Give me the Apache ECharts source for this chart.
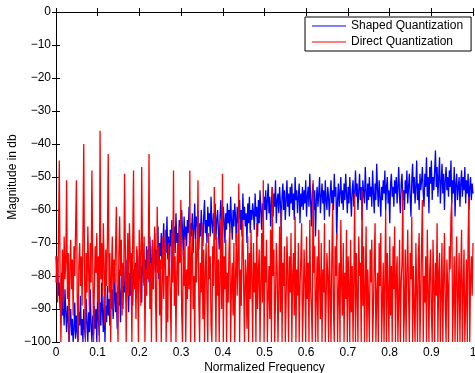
<!DOCTYPE html>
<html>
<head>
<meta charset="utf-8">
<script src="https://cdn.jsdelivr.net/npm/echarts@6/dist/echarts.min.js"></script>
<style>
html,body{margin:0;padding:0;background:#fff;}
#c{width:475px;height:373px;}
</style>
</head>
<body>
<div id="c"></div>
<script>
// Shaped quantization spectrum (dB), 512 bins over normalized frequency 0..1
const shaped = [
-74,-80,-77,-86,-82,-90,-85,-79,-92,-88,-95,-84,-91,-97,-89,-93,
-100,-94,-90,-98,-93,-100,-96,-88,-99,-92,-97,-100,-91,-95,-86,-98,
-93,-100,-90,-96,-99,-87,-94,-100,-91,-97,-84,-95,-100,-92,-98,-89,
-96,-90,-100,-85,-93,-98,-88,-95,-82,-91,-97,-86,-100,-89,-94,-83,
-92,-87,-95,-81,-90,-84,-93,-88,-79,-91,-85,-96,-83,-89,-78,-94,
-86,-80,-90,-77,-85,-82,-88,-75,-84,-91,-79,-86,-73,-83,-89,-78,
-82,-76,-87,-72,-80,-85,-74,-81,-77,-88,-70,-79,-83,-75,-86,-71,
-78,-73,-82,-68,-76,-80,-71,-84,-74,-67,-79,-72,-77,-65,-81,-70,
-74,-67,-78,-70,-64,-76,-69,-73,-62,-75,-68,-80,-66,-71,-63,-77,
-69,-65,-73,-61,-70,-67,-75,-63,-68,-72,-60,-66,-74,-62,-69,-65,
-71,-63,-67,-59,-70,-64,-68,-61,-73,-66,-58,-69,-62,-65,-60,-72,
-64,-68,-60,-66,-71,-62,-57,-67,-63,-70,-59,-65,-61,-68,-56,-64,
-67,-61,-65,-58,-69,-63,-60,-66,-72,-62,-57,-64,-68,-59,-63,-70,
-61,-66,-58,-64,-60,-67,-56,-63,-69,-60,-65,-58,-62,-71,-59,-64,
-62,-57,-66,-60,-68,-55,-63,-59,-65,-61,-70,-58,-64,-56,-67,-60,
-63,-58,-61,-66,-55,-62,-59,-68,-57,-64,-54,-60,-66,-58,-62,-56,
-60,-54,-63,-57,-52,-61,-56,-65,-58,-53,-62,-55,-59,-51,-64,-57,
-55,-61,-53,-58,-66,-56,-52,-60,-54,-63,-57,-51,-59,-55,-62,-53,
-58,-52,-60,-55,-63,-50,-57,-54,-61,-56,-52,-64,-55,-59,-53,-60,
-54,-58,-51,-62,-56,-53,-59,-49,-57,-65,-55,-52,-60,-54,-68,-57,
-53,-59,-55,-50,-61,-56,-52,-58,-54,-63,-51,-57,-60,-53,-56,-62,
-55,-51,-58,-54,-60,-49,-56,-53,-69,-57,-52,-59,-55,-50,-58,-54,
-60,-52,-57,-49,-55,-61,-53,-58,-50,-56,-62,-54,-51,-59,-55,-48,
-56,-52,-60,-54,-49,-57,-53,-63,-51,-55,-58,-47,-54,-60,-52,-57,
-50,-56,-53,-59,-48,-55,-61,-52,-57,-46,-54,-59,-51,-56,-62,-53,
-57,-51,-55,-48,-60,-53,-50,-58,-54,-64,-52,-49,-56,-53,-59,-51,
-55,-50,-58,-53,-47,-56,-61,-52,-49,-57,-54,-60,-51,-55,-48,-58,
-53,-49,-56,-62,-51,-46,-55,-50,-58,-53,-45,-57,-52,-60,-49,-54,
-51,-47,-55,-59,-49,-53,-44,-56,-50,-61,-47,-52,-45,-57,-50,-54,
-48,-42,-53,-47,-56,-50,-44,-58,-52,-46,-55,-49,-60,-51,-47,-54,
-50,-56,-48,-53,-45,-58,-51,-55,-47,-62,-52,-49,-57,-53,-50,-59,
-52,-48,-56,-50,-54,-47,-58,-51,-55,-49,-60,-53,-50,-57,-52,-55
];
// Direct quantization spectrum (dB)
const direct = [
-82,-74,-88,-70,-45,-79,-100,-85,-72,-90,-68,-81,-76,-51,-87,-73,
-100,-78,-69,-84,-75,-92,-71,-80,-66,-51,-86,-100,-77,-70,-83,-74,
-89,-68,-40,-80,-100,-73,-85,-65,-78,-91,-70,-82,-48,-76,-100,-84,
-71,-79,-67,-88,-74,-100,-36,-81,-70,-86,-64,-77,-95,-72,-83,-69,
-43,-85,-73,-100,-78,-68,-90,-75,-82,-71,-59,-87,-100,-74,-62,-80,
-69,-92,-76,-83,-49,-72,-100,-79,-67,-86,-64,-74,-81,-100,-70,-48,
-84,-77,-93,-71,-80,-100,-66,-75,-89,-47,-73,-82,-68,-100,-78,-86,
-72,-81,-43,-90,-76,-100,-69,-84,-74,-65,-88,-100,-59,-79,-71,-92,
-75,-100,-83,-68,-87,-73,-66,-100,-80,-94,-70,-77,-85,-100,-67,-82,
-48,-89,-74,-100,-79,-70,-86,-65,-76,-57,-91,-100,-72,-83,-68,-100,
-78,-87,-71,-84,-48,-100,-75,-66,-90,-80,-100,-69,-82,-73,-51,-88,
-100,-76,-85,-64,-93,-72,-100,-79,-70,-87,-100,-67,-81,-74,-95,-100,
-71,-83,-53,-77,-100,-68,-86,-75,-100,-80,-63,-90,-49,-100,-74,-84,
-69,-100,-79,-88,-72,-65,-100,-83,-76,-92,-70,-100,-81,-67,-86,-74,
-52,-100,-78,-89,-71,-63,-84,-100,-75,-80,-96,-68,-100,-73,-87,-66,
-81,-100,-70,-85,-76,-100,-64,-90,-79,-72,-100,-83,-67,-88,-51,-100,
-74,-82,-69,-100,-86,-77,-93,-66,-100,-53,-80,-72,-100,-87,-70,-78,
-100,-84,-65,-91,-60,-100,-76,-83,-71,-100,-88,-68,-79,-100,-74,-85,
-67,-100,-80,-73,-92,-62,-100,-78,-86,-70,-100,-83,-75,-64,-100,-89,
-72,-81,-100,-68,-87,-76,-100,-63,-84,-90,-100,-51,-79,-71,-100,-86,
-74,-100,-66,-82,-93,-70,-100,-78,-85,-64,-100,-88,-73,-80,-100,-69,
-84,-100,-75,-58,-90,-100,-71,-80,-67,-100,-86,-76,-100,-63,-82,-92,
-70,-100,-79,-87,-66,-100,-74,-83,-100,-69,-91,-77,-100,-81,-55,-100,
-73,-85,-100,-68,-80,-76,-100,-54,-89,-71,-100,-84,-65,-100,-78,-87,
-100,-72,-82,-69,-100,-90,-75,-64,-100,-86,-79,-100,-70,-83,-67,-100,
-88,-76,-100,-81,-60,-100,-73,-85,-100,-68,-92,-77,-100,-71,-84,-65,
-100,-80,-74,-100,-87,-69,-100,-82,-76,-54,-100,-90,-72,-100,-79,-66,
-85,-100,-73,-81,-62,-100,-77,-89,-100,-70,-84,-100,-75,-67,-100,-86,
-71,-57,-100,-80,-88,-74,-100,-66,-83,-100,-78,-72,-91,-100,-69,-82,
-100,-76,-86,-64,-100,-79,-73,-100,-85,-70,-100,-81,-67,-89,-100,-75,
-83,-100,-71,-78,-62,-57,-100,-87,-74,-100,-80,-68,-100,-85,-73,-100,
-79,-66,-100,-84,-72,-100,-88,-75,-100,-69,-56,-100,-81,-74,-86,-70
];
const seriesNames = ['Shaped Quantization', 'Direct Quantization'];
const yTicks = [0,-10,-20,-30,-40,-50,-60,-70,-80,-90,-100];

const n = shaped.length;
const pairs = arr => arr.map((v, i) => [i / (n - 1), v]);

const font = '"Liberation Sans", Arial, Helvetica, sans-serif';
const chart = echarts.init(document.getElementById('c'), null, {renderer: 'canvas'});
const axisLine = {show: true, lineStyle: {color: '#000', width: 1}};
const tick = {show: true, inside: true, length: 4, lineStyle: {color: '#000', width: 1}};
chart.setOption({
  animation: false,
  backgroundColor: '#fff',
  textStyle: {fontFamily: font},
  grid: {left: 56, right: 2, top: 12, bottom: 31, containLabel: false, outerBoundsMode: 'none'},
  legend: {
    data: seriesNames,
    orient: 'vertical',
    left: 305,
    top: 17,
    icon: 'rect',
    itemWidth: 34,
    itemHeight: 1,
    itemGap: 4,
    padding: [3, 8, 3, 7],
    borderColor: '#000',
    borderWidth: 1,
    backgroundColor: '#fff',
    textStyle: {fontFamily: font, fontSize: 12, color: '#000', padding: [0, 0, 0, 0]}
  },
  xAxis: [{
    type: 'value', min: 0, max: 1, interval: 0.1, position: 'bottom',
    name: 'Normalized Frequency', nameLocation: 'middle', nameGap: 20, nameMoveOverlap: false,
    nameTextStyle: {fontFamily: font, fontSize: 12, color: '#000'},
    axisLine: axisLine, axisTick: tick, splitLine: {show: false},
    axisLabel: {color: '#000', fontSize: 12, fontFamily: font, margin: 5,
      formatter: v => String(Math.round(v * 10) / 10)}
  }, {
    type: 'value', min: 0, max: 1, interval: 0.1, position: 'top',
    axisLine: axisLine, axisTick: tick, splitLine: {show: false},
    axisLabel: {show: false}
  }],
  yAxis: [{
    type: 'value', min: -100, max: 0, interval: 10, position: 'left',
    name: 'Magnitude in db', nameLocation: 'middle', nameGap: 37, nameMoveOverlap: false,
    nameTextStyle: {fontFamily: font, fontSize: 12, color: '#000'},
    axisLine: axisLine, axisTick: tick, splitLine: {show: false},
    axisLabel: {color: '#000', fontSize: 12, fontFamily: font, margin: 5,
      formatter: v => (yTicks.includes(v) ? String(v).replace('-', '\u2212') : '')}
  }, {
    type: 'value', min: -100, max: 0, interval: 10, position: 'right',
    axisLine: axisLine, axisTick: tick, splitLine: {show: false},
    axisLabel: {show: false}
  }],
  series: [{
    name: seriesNames[0], type: 'line', xAxisIndex: 0, yAxisIndex: 0,
    data: pairs(shaped), showSymbol: false, symbol: 'none', clip: true,
    lineStyle: {color: '#0000ff', width: 1.3}, itemStyle: {color: '#0000ff'}
  }, {
    name: seriesNames[1], type: 'line', xAxisIndex: 0, yAxisIndex: 0,
    data: pairs(direct), showSymbol: false, symbol: 'none', clip: true,
    lineStyle: {color: '#ff0000', width: 1.3}, itemStyle: {color: '#ff0000'}
  }]
});
</script>
</body>
</html>
